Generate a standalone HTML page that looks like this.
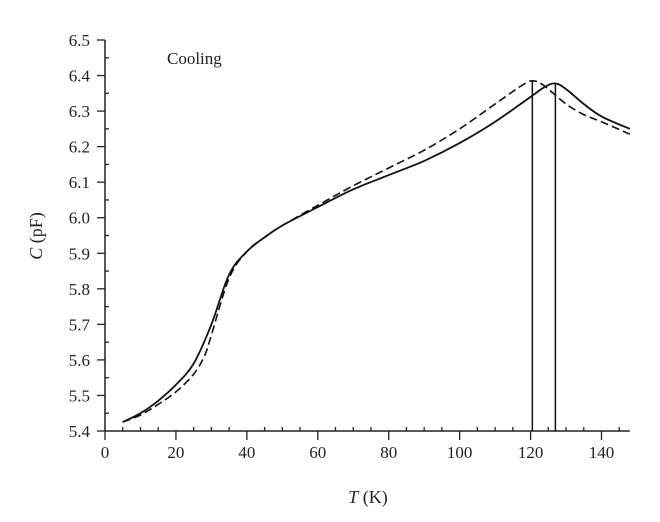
<!DOCTYPE html>
<html><head><meta charset="utf-8"><style>
body{margin:0;background:#fff}
svg{display:block;font-family:"Liberation Serif",serif;}
</style></head><body>
<svg id="chart" width="660" height="522" viewBox="0 0 660 522" xmlns="http://www.w3.org/2000/svg">
<g id="axes"></g>
<g id="series"></g>
<text x="167" y="64" font-size="17" fill="#222">Cooling</text>
<text x="368" y="503" font-size="18" text-anchor="middle" fill="#222"><tspan font-style="italic">T</tspan> (K)</text>
<text transform="translate(42,236) rotate(-90)" font-size="18" text-anchor="middle" fill="#222"><tspan font-style="italic">C</tspan> (pF)</text>
</svg>
<script>
const xTicks=[0,20,40,60,80,100,120,140];
const yTicks=[5.4,5.5,5.6,5.7,5.8,5.9,6.0,6.1,6.2,6.3,6.4,6.5];
const solidT=[5,10,15,20,25,30,35,40,45,50,60,70,80,90,100,110,120,124,127,130,135,140,148];
const solidC=[5.425,5.45,5.485,5.53,5.59,5.70,5.84,5.905,5.945,5.978,6.03,6.08,6.12,6.16,6.21,6.27,6.34,6.368,6.378,6.362,6.32,6.285,6.25];
const dashT=[5,10,15,20,25,28,30,35,40,45,50,60,70,80,90,100,110,118,121,124,130,135,140,148];
const dashC=[5.425,5.445,5.475,5.51,5.56,5.61,5.67,5.83,5.905,5.945,5.978,6.035,6.09,6.14,6.19,6.25,6.32,6.375,6.385,6.37,6.32,6.29,6.27,6.235];
const peakT=[120.5,127];
const peakC=[6.385,6.378];
const NS="http://www.w3.org/2000/svg";
const X=t=>105+t*(496.5/140);
const Y=c=>431-(c-5.4)*(391/1.1);
function mk(tag,attrs,parent){const e=document.createElementNS(NS,tag);for(const k in attrs)e.setAttribute(k,attrs[k]);parent.appendChild(e);return e;}
const ax=document.getElementById('axes'), sr=document.getElementById('series');
let e=mk('line',{x1:105,y1:431,x2:X(148),y2:431,stroke:'#222','stroke-width':1.5},ax);


e=mk('line',{x1:105,y1:431,x2:105,y2:Y(6.5),stroke:'#222','stroke-width':1.5},ax);


for(let t=0;t<=145;t+=5){const major=t%20===0;
 e=mk('line',{x1:X(t),x2:X(t),y1:431-(major?0:4),y2:431+(major?9:0),stroke:'#222','stroke-width':1.3},ax);
 
 }
xTicks.forEach(t=>{e=mk('text',{x:X(t),y:458,'font-size':17,'text-anchor':'middle',fill:'#222'},ax);e.textContent=t;
 
 });
for(let i=0;i<=22;i++){const c=5.4+i*0.05;const major=i%2===0;
 e=mk('line',{x1:major?97:105,x2:major?105:109,y1:Y(c),y2:Y(c),stroke:'#222','stroke-width':1.3},ax);
 
 }
yTicks.forEach(c=>{e=mk('text',{x:90,y:Y(c)+6,'font-size':17,'text-anchor':'end',fill:'#222'},ax);e.textContent=c.toFixed(1);
 
 });
function path(T,C){
 const p=T.map((t,i)=>[X(t),Y(C[i])]);
 let d='M'+p[0][0].toFixed(1)+','+p[0][1].toFixed(1);
 for(let i=0;i<p.length-1;i++){
  const p0=p[i-1]||p[i],p1=p[i],p2=p[i+1],p3=p[i+2]||p2;
  const c1=[p1[0]+(p2[0]-p0[0])/6,p1[1]+(p2[1]-p0[1])/6];
  const c2=[p2[0]-(p3[0]-p1[0])/6,p2[1]-(p3[1]-p1[1])/6];
  d+='C'+c1.map(v=>v.toFixed(1)).join(',')+' '+c2.map(v=>v.toFixed(1)).join(',')+' '+p2.map(v=>v.toFixed(1)).join(',');
 }
 return d;}
e=mk('path',{d:path(solidT,solidC),fill:'none',stroke:'#111','stroke-width':1.8,'stroke-linejoin':'round'},sr);


e=mk('path',{d:path(dashT,dashC),fill:'none',stroke:'#111','stroke-width':1.6,'stroke-dasharray':'8,4'},sr);


peakT.forEach((t,i)=>{e=mk('line',{x1:X(t),x2:X(t),y1:431,y2:Y(peakC[i]),stroke:'#111','stroke-width':1.5},sr);
 
 });
</script>
</body></html>
